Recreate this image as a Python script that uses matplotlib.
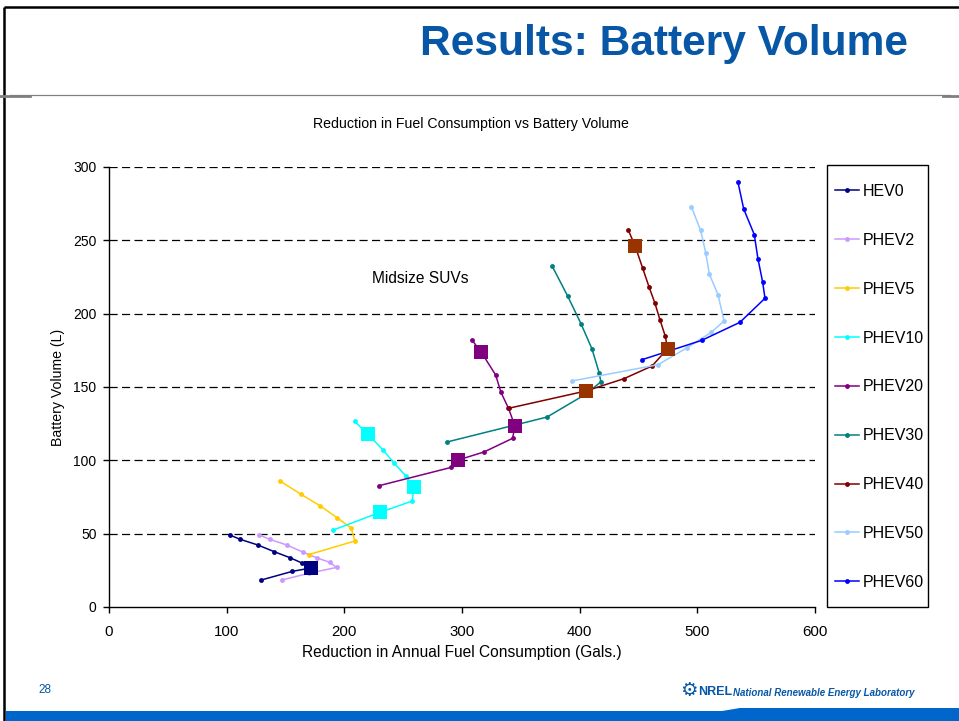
import matplotlib.pyplot as plt
from matplotlib.patches import Rectangle, Polygon

plt.rcParams['font.family'] = ['Liberation Sans', 'DejaVu Sans']

# series: reduction in annual fuel use (gal) vs battery volume (L)
hev0_x = [102.6, 111.3, 126.4, 140.5, 153.8, 164.0, 171.7, 155.8, 129.4]
hev0_y = [49.1, 46.2, 42.3, 37.7, 33.6, 30.0, 26.6, 24.3, 18.4]

phev2_x = [127.8, 136.5, 151.0, 164.6, 177.0, 187.5, 193.5, 170.0, 146.8]
phev2_y = [49.1, 46.2, 42.3, 37.5, 33.4, 30.5, 27.0, 23.0, 18.4]

phev5_x = [145.3, 162.9, 179.6, 193.8, 205.7, 209.0, 169.7]
phev5_y = [85.9, 77.0, 68.9, 60.9, 53.9, 45.0, 35.7]

phev10_x = [208.8, 220.1, 232.6, 242.2, 252.1, 259.0, 257.8, 230.6, 190.6]
phev10_y = [126.6, 117.7, 107.3, 98.2, 89.5, 82.0, 72.3, 64.6, 52.5]

phev20_x = [308.2, 316.4, 328.6, 333.1, 339.5, 345.0, 343.0, 318.7, 296.6, 290.9, 229.5]
phev20_y = [182.3, 173.7, 158.2, 146.4, 135.5, 123.4, 115.0, 105.7, 100.2, 95.2, 82.7]

phev30_x = [376.7, 389.8, 401.1, 410.5, 416.7, 418.0, 405.0, 372.2, 287.2]
phev30_y = [232.3, 212.0, 193.2, 175.9, 159.3, 153.5, 145.0, 129.5, 112.5]

phev40_x = [441.4, 447.0, 453.6, 458.9, 464.0, 468.3, 472.8, 474.7, 461.5, 437.7, 405.4, 339.7]
phev40_y = [256.8, 246.4, 230.9, 218.4, 207.0, 195.7, 184.5, 176.1, 164.3, 155.7, 147.3, 135.5]

phev50_x = [494.9, 502.8, 507.1, 510.2, 517.6, 522.7, 511.9, 490.9, 466.6, 393.5]
phev50_y = [273.0, 256.8, 241.6, 227.0, 212.9, 195.0, 187.3, 176.6, 165.2, 154.1]

phev60_x = [534.5, 539.4, 548.4, 551.5, 555.5, 557.5, 536.2, 503.7, 452.9]
phev60_y = [289.8, 271.4, 253.9, 237.5, 221.6, 210.5, 194.1, 181.8, 168.6]

# highlighted design points (big squares)
hev0_sq_x = [171.7]
hev0_sq_y = [26.6]
phev10_sq_x = [220.1, 259.0, 230.6]
phev10_sq_y = [117.7, 82.0, 64.6]
phev20_sq_x = [316.4, 345.0, 296.6]
phev20_sq_y = [173.7, 123.4, 100.2]
phev40_sq_x = [447.0, 474.7, 405.4]
phev40_sq_y = [246.4, 176.1, 147.3]

series = [
    ('HEV0', hev0_x, hev0_y, '#000080'),
    ('PHEV2', phev2_x, phev2_y, '#CC99FF'),
    ('PHEV5', phev5_x, phev5_y, '#FFCC00'),
    ('PHEV10', phev10_x, phev10_y, '#00FFFF'),
    ('PHEV20', phev20_x, phev20_y, '#800080'),
    ('PHEV30', phev30_x, phev30_y, '#008080'),
    ('PHEV40', phev40_x, phev40_y, '#800000'),
    ('PHEV50', phev50_x, phev50_y, '#99CCFF'),
    ('PHEV60', phev60_x, phev60_y, '#0000FF'),
]
squares = [
    (hev0_sq_x, hev0_sq_y, '#000080'),
    (phev10_sq_x, phev10_sq_y, '#00FFFF'),
    (phev20_sq_x, phev20_sq_y, '#800080'),
    (phev40_sq_x, phev40_sq_y, '#993300'),
]

W, H = 959, 721
fig = plt.figure(figsize=(W / 100, H / 100), dpi=100)

# slide background decorations, drawn in pixel coordinates
bg = fig.add_axes([0, 0, 1, 1])
bg.set_xlim(0, W)
bg.set_ylim(H, 0)
bg.axis('off')
bg.plot([4, W], [7, 7], color='black', lw=1.8, solid_capstyle='butt')
bg.plot([4, 4], [7, H], color='black', lw=1.8, solid_capstyle='butt')
bg.plot([10, 950], [95, 95], color='#808080', lw=0.9)
bg.plot([0, 30], [96, 96], color='#808080', lw=2)
bg.plot([943, W], [96, 96], color='#808080', lw=2)
bg.text(908, 44, 'Results: Battery Volume', ha='right', va='center',
        fontsize=30.6, fontweight='bold', color='#0757A6')
bg.text(38, 690, '28', ha='left', va='center', fontsize=8.5, color='#0757A6')
bg.add_patch(Rectangle((6, 711), W - 6, 10, color='#0066CC', lw=0))
bg.add_patch(Polygon([[722, 711], [740, 708], [W, 708], [W, 711]], closed=True,
                     color='#0066CC', lw=0))
bg.text(680, 692, '\u2699', ha='left', va='center', fontsize=14, color='#0757A6')
bg.text(698, 692, 'NREL', ha='left', va='center', fontsize=9, fontweight='bold',
        color='#0757A6')
bg.text(733, 693, 'National Renewable Energy Laboratory', ha='left', va='center',
        fontsize=7, fontweight='bold', style='italic', color='#0757A6')

# legend frame
bg.add_patch(Rectangle((827, 165), 101, 442, fill=False, edgecolor='black', lw=1))

ax = fig.add_axes([109 / W, 1 - 607 / H, (815 - 109) / W, (607 - 167) / H])
ax.patch.set_alpha(0)

handles = []
for name, xs, ys, col in series:
    ln, = ax.plot(xs, ys, color=col, lw=1.1, marker='o', markersize=3.5,
                  markeredgewidth=0, label=name, zorder=3)
    handles.append(ln)

for xs, ys, col in squares:
    ax.plot(xs, ys, linestyle='none', marker='s', markersize=10,
            color=col, markeredgewidth=0, zorder=4)

ax.set_xlim(0, 600)
ax.set_ylim(0, 300)
ax.set_xticks(range(0, 601, 100))
ax.set_yticks(range(0, 301, 50))
for yv in range(50, 301, 50):
    ax.axhline(yv, color='black', lw=0.9, dashes=(6.5, 3.5), zorder=1)
ax.spines['top'].set_visible(False)
ax.spines['right'].set_visible(False)
ax.spines['left'].set_linewidth(1)
ax.spines['bottom'].set_linewidth(1)
ax.tick_params(direction='out', length=4, width=1)
ax.tick_params(axis='x', pad=9, labelsize=10.8)
ax.tick_params(axis='y', pad=5, labelsize=10)

ax.set_xlabel('Reduction in Annual Fuel Consumption (Gals.)', fontsize=11.2, labelpad=4)
ax.set_ylabel('Battery Volume (L)', fontsize=10.2, labelpad=6)
fig.text(471 / W, 1 - 124 / H, 'Reduction in Fuel Consumption vs Battery Volume',
         ha='center', va='center', fontsize=10.2)
ax.text(223.5, 224, 'Midsize SUVs', ha='left', va='center', fontsize=11.2)

leg = fig.legend(handles, [h.get_label() for h in handles], loc='upper left',
                 bbox_to_anchor=(835 / W, 1 - 184 / H), fontsize=11.5,
                 frameon=False, labelspacing=2.12, handlelength=1.5,
                 handletextpad=0.25, borderpad=0, borderaxespad=0)

fig.savefig('out.png', dpi=100)
